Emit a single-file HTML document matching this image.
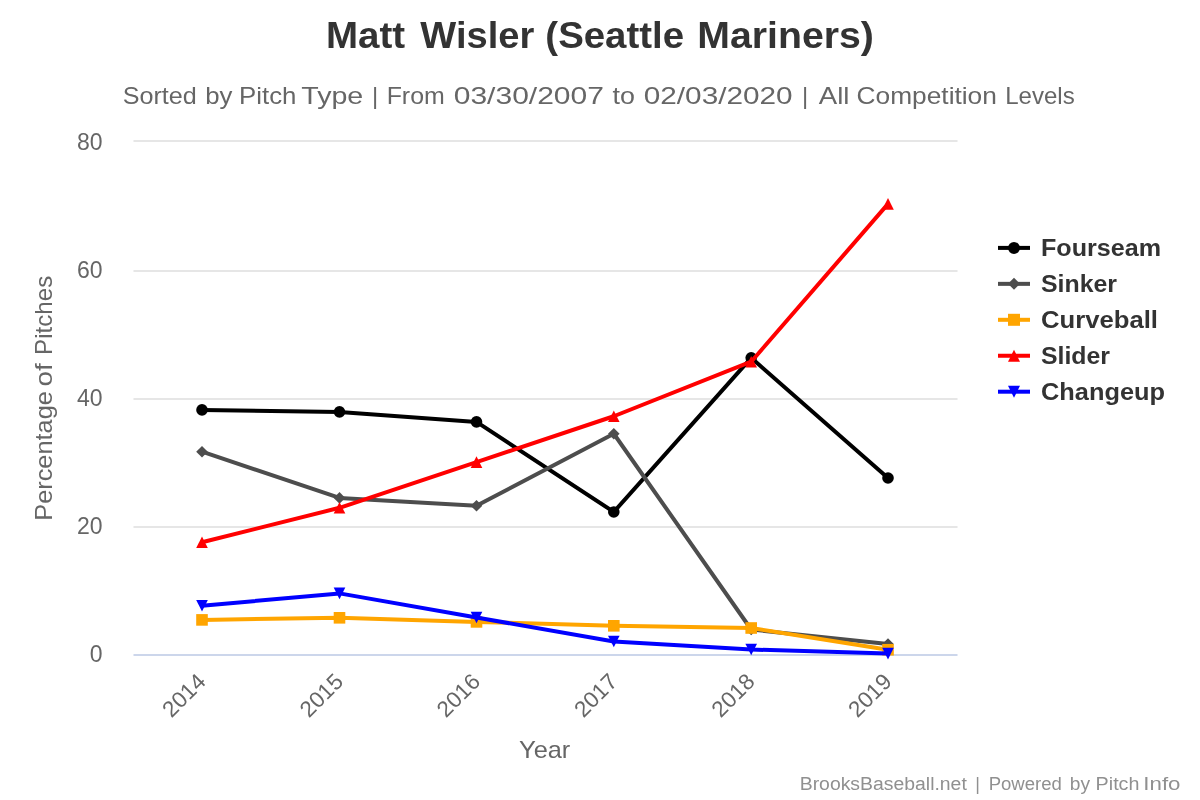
<!DOCTYPE html>
<html><head><meta charset="utf-8"><title>Matt Wisler (Seattle Mariners)</title>
<style>
html,body{margin:0;padding:0;background:#ffffff;width:1200px;height:800px;overflow:hidden;}
svg{display:block;font-family:"Liberation Sans",sans-serif;will-change:transform;}
</style></head><body>
<svg width="1200" height="800" viewBox="0 0 1200 800"><rect x="133.5" y="140" width="824" height="2" fill="#e6e6e6"/>
<rect x="133.5" y="270" width="824" height="2" fill="#e6e6e6"/>
<rect x="133.5" y="398" width="824" height="2" fill="#e6e6e6"/>
<rect x="133.5" y="526" width="824" height="2" fill="#e6e6e6"/>
<rect x="133.5" y="654" width="824" height="2" fill="#ccd6eb"/>
<g><polyline points="202,409.9 339.5,411.9 476.5,421.9 613.8,511.95 751.2,357.8 888,478" fill="none" stroke="#000000" stroke-width="4" stroke-linejoin="round" stroke-linecap="round"/><circle cx="202" cy="409.9" r="5.8" fill="#000000"/><circle cx="339.5" cy="411.9" r="5.8" fill="#000000"/><circle cx="476.5" cy="421.9" r="5.8" fill="#000000"/><circle cx="613.8" cy="511.95" r="5.8" fill="#000000"/><circle cx="751.2" cy="357.8" r="5.8" fill="#000000"/><circle cx="888" cy="478" r="5.8" fill="#000000"/></g>
<g><polyline points="202,451.7 339.5,497.9 476.5,505.75 613.8,433.75 751.2,629.5 888,644" fill="none" stroke="#4d4d4d" stroke-width="4" stroke-linejoin="round" stroke-linecap="round"/><path d="M202 445.9L207.8 451.7L202 457.5L196.2 451.7Z" fill="#4d4d4d"/><path d="M339.5 492.1L345.3 497.9L339.5 503.7L333.7 497.9Z" fill="#4d4d4d"/><path d="M476.5 499.95L482.3 505.75L476.5 511.55L470.7 505.75Z" fill="#4d4d4d"/><path d="M613.8 427.95L619.6 433.75L613.8 439.55L608 433.75Z" fill="#4d4d4d"/><path d="M751.2 623.7L757 629.5L751.2 635.3L745.4 629.5Z" fill="#4d4d4d"/><path d="M888 638.2L893.8 644L888 649.8L882.2 644Z" fill="#4d4d4d"/></g>
<g><polyline points="202,619.9 339.5,617.8 476.5,621.9 613.8,625.8 751.2,628 888,649.75" fill="none" stroke="#FFA500" stroke-width="4" stroke-linejoin="round" stroke-linecap="round"/><rect x="196.2" y="614.1" width="11.6" height="11.6" fill="#FFA500"/><rect x="333.7" y="612" width="11.6" height="11.6" fill="#FFA500"/><rect x="470.7" y="616.1" width="11.6" height="11.6" fill="#FFA500"/><rect x="608" y="620" width="11.6" height="11.6" fill="#FFA500"/><rect x="745.4" y="622.2" width="11.6" height="11.6" fill="#FFA500"/><rect x="882.2" y="643.95" width="11.6" height="11.6" fill="#FFA500"/></g>
<g><polyline points="202,542.2 339.5,507.8 476.5,462.1 613.8,416.25 751.2,361.7 888,203.9" fill="none" stroke="#FF0000" stroke-width="4" stroke-linejoin="round" stroke-linecap="round"/><path d="M202 536.4L207.8 548L196.2 548Z" fill="#FF0000"/><path d="M339.5 502L345.3 513.6L333.7 513.6Z" fill="#FF0000"/><path d="M476.5 456.3L482.3 467.9L470.7 467.9Z" fill="#FF0000"/><path d="M613.8 410.45L619.6 422.05L608 422.05Z" fill="#FF0000"/><path d="M751.2 355.9L757 367.5L745.4 367.5Z" fill="#FF0000"/><path d="M888 198.1L893.8 209.7L882.2 209.7Z" fill="#FF0000"/></g>
<g><polyline points="202,605.75 339.5,593.4 476.5,617.5 613.8,641.5 751.2,649.5 888,653.6" fill="none" stroke="#0000FF" stroke-width="4" stroke-linejoin="round" stroke-linecap="round"/><path d="M196.2 599.95L207.8 599.95L202 611.55Z" fill="#0000FF"/><path d="M333.7 587.6L345.3 587.6L339.5 599.2Z" fill="#0000FF"/><path d="M470.7 611.7L482.3 611.7L476.5 623.3Z" fill="#0000FF"/><path d="M608 635.7L619.6 635.7L613.8 647.3Z" fill="#0000FF"/><path d="M745.4 643.7L757 643.7L751.2 655.3Z" fill="#0000FF"/><path d="M882.2 647.8L893.8 647.8L888 659.4Z" fill="#0000FF"/></g>
<text x="326.06" y="48" font-family="Liberation Sans, sans-serif" font-size="36" font-weight="bold" fill="#333333" textLength="79.14" lengthAdjust="spacingAndGlyphs">Matt</text><text x="420.3" y="48" font-family="Liberation Sans, sans-serif" font-size="36" font-weight="bold" fill="#333333" textLength="113.96" lengthAdjust="spacingAndGlyphs">Wisler</text><text x="545.37" y="48" font-family="Liberation Sans, sans-serif" font-size="36" font-weight="bold" fill="#333333" textLength="138.65" lengthAdjust="spacingAndGlyphs">(Seattle</text><text x="697.32" y="48" font-family="Liberation Sans, sans-serif" font-size="36" font-weight="bold" fill="#333333" textLength="176.63" lengthAdjust="spacingAndGlyphs">Mariners)</text>
<text x="122.7" y="103.75" font-family="Liberation Sans, sans-serif" font-size="24" font-weight="normal" fill="#666666" textLength="74.1" lengthAdjust="spacingAndGlyphs">Sorted</text><text x="205.18" y="103.75" font-family="Liberation Sans, sans-serif" font-size="24" font-weight="normal" fill="#666666" textLength="27.21" lengthAdjust="spacingAndGlyphs">by</text><text x="239.1" y="103.75" font-family="Liberation Sans, sans-serif" font-size="24" font-weight="normal" fill="#666666" textLength="57.36" lengthAdjust="spacingAndGlyphs">Pitch</text><text x="301.25" y="103.75" font-family="Liberation Sans, sans-serif" font-size="24" font-weight="normal" fill="#666666" textLength="61.98" lengthAdjust="spacingAndGlyphs">Type</text><text x="386.67" y="103.75" font-family="Liberation Sans, sans-serif" font-size="24" font-weight="normal" fill="#666666" textLength="58.11" lengthAdjust="spacingAndGlyphs">From</text><text x="453.75" y="103.75" font-family="Liberation Sans, sans-serif" font-size="24" font-weight="normal" fill="#666666" textLength="150.16" lengthAdjust="spacingAndGlyphs">03/30/2007</text><text x="612.5" y="103.75" font-family="Liberation Sans, sans-serif" font-size="24" font-weight="normal" fill="#666666" textLength="22.39" lengthAdjust="spacingAndGlyphs">to</text><text x="643.76" y="103.75" font-family="Liberation Sans, sans-serif" font-size="24" font-weight="normal" fill="#666666" textLength="148.88" lengthAdjust="spacingAndGlyphs">02/03/2020</text><text x="818.75" y="103.75" font-family="Liberation Sans, sans-serif" font-size="24" font-weight="normal" fill="#666666" textLength="30.67" lengthAdjust="spacingAndGlyphs">All</text><text x="856.6" y="103.75" font-family="Liberation Sans, sans-serif" font-size="24" font-weight="normal" fill="#666666" textLength="140.26" lengthAdjust="spacingAndGlyphs">Competition</text><text x="1005.2" y="103.75" font-family="Liberation Sans, sans-serif" font-size="24" font-weight="normal" fill="#666666" textLength="69.48" lengthAdjust="spacingAndGlyphs">Levels</text>
<text x="375" y="103.75" text-anchor="middle" font-family="Liberation Sans, sans-serif" font-size="24" fill="#666666">|</text>
<text x="805" y="103.75" text-anchor="middle" font-family="Liberation Sans, sans-serif" font-size="24" fill="#666666">|</text>
<text x="977.5" y="789.75" text-anchor="middle" font-family="Liberation Sans, sans-serif" font-size="18" fill="#909090">|</text>
<text x="102.5" y="149.7" text-anchor="end" font-family="Liberation Sans, sans-serif" font-size="23" fill="#666666">80</text>
<text x="102.5" y="277.9" text-anchor="end" font-family="Liberation Sans, sans-serif" font-size="23" fill="#666666">60</text>
<text x="102.5" y="405.9" text-anchor="end" font-family="Liberation Sans, sans-serif" font-size="23" fill="#666666">40</text>
<text x="102.5" y="533.9" text-anchor="end" font-family="Liberation Sans, sans-serif" font-size="23" fill="#666666">20</text>
<text x="102.5" y="661.8" text-anchor="end" font-family="Liberation Sans, sans-serif" font-size="23" fill="#666666">0</text>
<g transform="translate(52,0) rotate(-90)"><text x="-520.71" y="0" font-family="Liberation Sans, sans-serif" font-size="24" font-weight="normal" fill="#666666" textLength="129.52" lengthAdjust="spacingAndGlyphs">Percentage</text><text x="-386.56" y="0" font-family="Liberation Sans, sans-serif" font-size="24" font-weight="normal" fill="#666666" textLength="23.18" lengthAdjust="spacingAndGlyphs">of</text><text x="-354.91" y="0" font-family="Liberation Sans, sans-serif" font-size="24" font-weight="normal" fill="#666666" textLength="79.12" lengthAdjust="spacingAndGlyphs">Pitches</text></g>
<text transform="translate(207,683) rotate(-45)" x="0" y="0" text-anchor="end" font-family="Liberation Sans, sans-serif" font-size="22.5" fill="#666666">2014</text>
<text transform="translate(344.5,683) rotate(-45)" x="0" y="0" text-anchor="end" font-family="Liberation Sans, sans-serif" font-size="22.5" fill="#666666">2015</text>
<text transform="translate(481.5,683) rotate(-45)" x="0" y="0" text-anchor="end" font-family="Liberation Sans, sans-serif" font-size="22.5" fill="#666666">2016</text>
<text transform="translate(618.8,683) rotate(-45)" x="0" y="0" text-anchor="end" font-family="Liberation Sans, sans-serif" font-size="22.5" fill="#666666">2017</text>
<text transform="translate(756.2,683) rotate(-45)" x="0" y="0" text-anchor="end" font-family="Liberation Sans, sans-serif" font-size="22.5" fill="#666666">2018</text>
<text transform="translate(893,683) rotate(-45)" x="0" y="0" text-anchor="end" font-family="Liberation Sans, sans-serif" font-size="22.5" fill="#666666">2019</text>
<text x="519.14" y="757.7" font-family="Liberation Sans, sans-serif" font-size="24" font-weight="normal" fill="#666666" textLength="51.18" lengthAdjust="spacingAndGlyphs">Year</text>
<rect x="998" y="245.9" width="32" height="4" fill="#000000"/>
<circle cx="1014" cy="247.9" r="6" fill="#000000"/>
<text x="1041" y="255.7" font-family="Liberation Sans, sans-serif" font-size="23" font-weight="bold" fill="#333333" textLength="120" lengthAdjust="spacingAndGlyphs">Fourseam</text>
<rect x="998" y="281.85" width="32" height="4" fill="#4d4d4d"/>
<path d="M1014 277.85L1020 283.85L1014 289.85L1008 283.85Z" fill="#4d4d4d"/>
<text x="1041" y="291.65" font-family="Liberation Sans, sans-serif" font-size="23" font-weight="bold" fill="#333333" textLength="76" lengthAdjust="spacingAndGlyphs">Sinker</text>
<rect x="998" y="317.8" width="32" height="4" fill="#FFA500"/>
<rect x="1008" y="313.8" width="12" height="12" fill="#FFA500"/>
<text x="1041" y="327.6" font-family="Liberation Sans, sans-serif" font-size="23" font-weight="bold" fill="#333333" textLength="117" lengthAdjust="spacingAndGlyphs">Curveball</text>
<rect x="998" y="353.75" width="32" height="4" fill="#FF0000"/>
<path d="M1014 349.75L1020 361.75L1008 361.75Z" fill="#FF0000"/>
<text x="1041" y="363.55" font-family="Liberation Sans, sans-serif" font-size="23" font-weight="bold" fill="#333333" textLength="69" lengthAdjust="spacingAndGlyphs">Slider</text>
<rect x="998" y="389.7" width="32" height="4" fill="#0000FF"/>
<path d="M1008 385.7L1020 385.7L1014 397.7Z" fill="#0000FF"/>
<text x="1041" y="399.5" font-family="Liberation Sans, sans-serif" font-size="23" font-weight="bold" fill="#333333" textLength="124" lengthAdjust="spacingAndGlyphs">Changeup</text>
<text x="799.72" y="789.75" font-family="Liberation Sans, sans-serif" font-size="18" font-weight="normal" fill="#909090" textLength="167.08" lengthAdjust="spacingAndGlyphs">BrooksBaseball.net</text><text x="988.67" y="789.75" font-family="Liberation Sans, sans-serif" font-size="18" font-weight="normal" fill="#909090" textLength="73.21" lengthAdjust="spacingAndGlyphs">Powered</text><text x="1069.73" y="789.75" font-family="Liberation Sans, sans-serif" font-size="18" font-weight="normal" fill="#909090" textLength="20.28" lengthAdjust="spacingAndGlyphs">by</text><text x="1095.61" y="789.75" font-family="Liberation Sans, sans-serif" font-size="18" font-weight="normal" fill="#909090" textLength="43.82" lengthAdjust="spacingAndGlyphs">Pitch</text><text x="1143.33" y="789.75" font-family="Liberation Sans, sans-serif" font-size="18" font-weight="normal" fill="#909090" textLength="37.15" lengthAdjust="spacingAndGlyphs">Info</text></svg>
</body></html>
